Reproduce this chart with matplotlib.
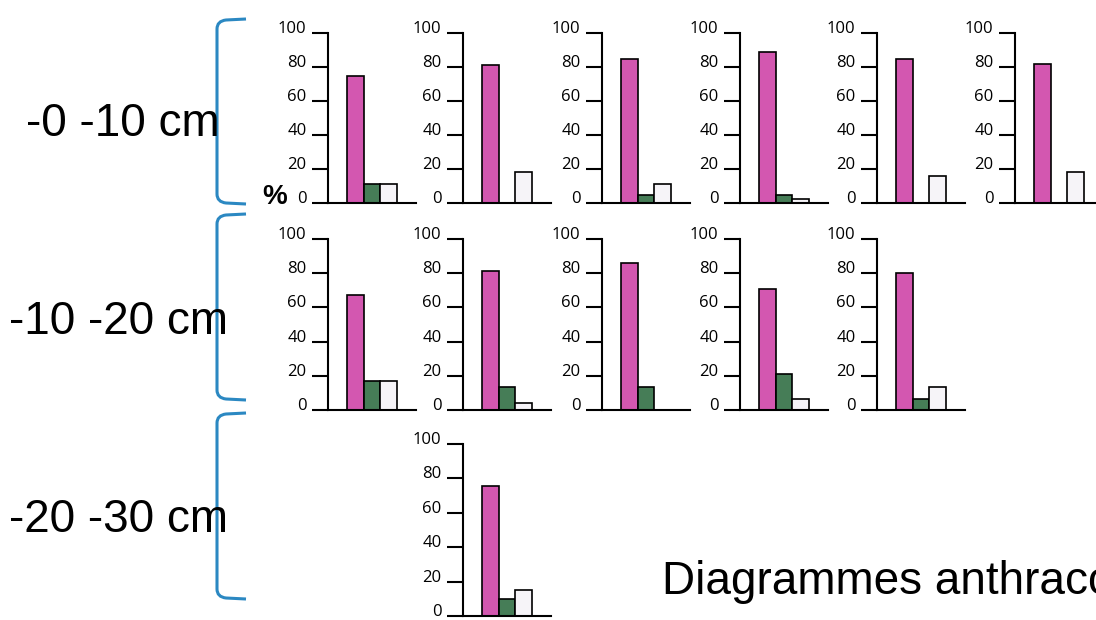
# small anthracology bar charts, 3 depth levels

import numpy as np
import matplotlib.pyplot as plt
from matplotlib.path import Path
from matplotlib.patches import PathPatch

# values (percent), one list per depth level
depths = ["-0 -10 cm", "-10 -20 cm", "-20 -30 cm"]
row1_pink = [75, 81, 85, 89, 85, 82]
row1_green = [11, 0, 5, 5, 0, 0]
row1_white = [11, 18, 11, 2.5, 16, 18]
row2_pink = [67, 81.5, 86, 71, 80]
row2_green = [17, 13.5, 13.5, 21, 6.5]
row2_white = [17, 4, 0, 6.5, 13.5]
row3_pink = [75.5]
row3_green = [10]
row3_white = [15]
row3_cols = [1]
yticks = [0, 20, 40, 60, 80, 100]
title = "Diagrammes anthracologiques"

pink = "#d357b0"
green = "#467d57"
white = "#f6f4f8"
blue = "#2b88c2"

W, H = 1096, 620
fig = plt.figure(figsize=(W / 100, H / 100), dpi=100)

# overlay in pixel coords for labels and braces
over = fig.add_axes([0, 0, 1, 1])
over.set_xlim(0, W)
over.set_ylim(H, 0)
over.axis("off")

col_x = [328, 463, 602, 740, 877, 1015]
row_bottom = [203, 410, 616]
row_height = [170, 171, 172]
ax_w = 88


def small_chart(col, row, p, g, w):
    x0 = col_x[col]
    yb = row_bottom[row]
    ax = fig.add_axes([x0 / W, (H - yb) / H, ax_w / W, row_height[row] / H])
    ax.patch.set_alpha(0)
    vals = [p, g, w]
    cols = [pink, green, white]
    for i in range(3):
        if vals[i] > 0:
            ax.bar(i, vals[i], width=1, color=cols[i], edgecolor="black",
                   linewidth=1.2, zorder=3)
    ax.set_xlim(-1.59, 3.59)
    ax.set_ylim(0, 100)
    ax.set_xticks([])
    ax.set_yticks(yticks)
    ax.set_yticklabels([str(t) for t in yticks], family="Open Sans", fontsize=12)
    for lab in ax.get_yticklabels():
        lab.set_verticalalignment("baseline")
    ax.tick_params(axis="y", direction="out", length=11.5, width=1.5, pad=4)
    for s in ["top", "right"]:
        ax.spines[s].set_visible(False)
    ax.spines["left"].set_linewidth(1.5)
    ax.spines["bottom"].set_linewidth(1.5)
    ax.spines["bottom"].set_zorder(4)
    return ax


for i in range(len(row1_pink)):
    small_chart(i, 0, row1_pink[i], row1_green[i], row1_white[i])
for i in range(len(row2_pink)):
    small_chart(i, 1, row2_pink[i], row2_green[i], row2_white[i])
for i in range(len(row3_pink)):
    small_chart(row3_cols[i], 2, row3_pink[i], row3_green[i], row3_white[i])

# depth labels
label_y = [124, 322, 520]
label_x = [220, 228, 228]
for i in range(3):
    over.text(label_x[i], label_y[i], depths[i], ha="right", va="center",
              family="Liberation Sans", fontsize=33)

# braces
brace_top = [21, 216, 415]
brace_bot = [202, 398, 597]
bx = 217
for i in range(3):
    t, b = brace_top[i], brace_bot[i]
    verts = [(246, t - 2), (226, t - 1), (bx, t), (bx, t + 8),
             (bx, b - 8), (bx, b), (226, b + 1), (246, b + 2)]
    codes = [Path.MOVETO, Path.LINETO, Path.CURVE3, Path.CURVE3,
             Path.LINETO, Path.CURVE3, Path.CURVE3, Path.LINETO]
    over.add_patch(PathPatch(Path(verts, codes), fill=False, edgecolor=blue,
                             linewidth=2.2, capstyle="butt"))

over.text(275, 204, "%", ha="center", va="baseline", family="Liberation Sans",
          fontsize=20, fontweight="bold")
over.text(662, 582, title, ha="left", va="center", family="Liberation Sans",
          fontsize=33)

fig.savefig("out.png", dpi=100)
print("done")
